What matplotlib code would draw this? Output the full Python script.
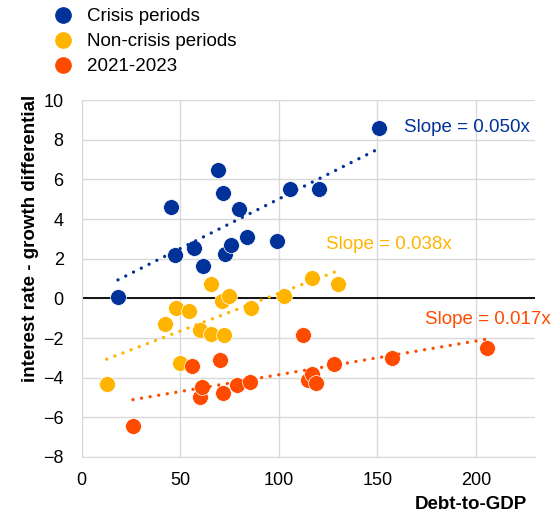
import numpy as np
import matplotlib
matplotlib.use("Agg")
import matplotlib.pyplot as plt
from matplotlib.lines import Line2D

plt.rcParams['font.family'] = ['Liberation Sans', 'DejaVu Sans']

# data: debt-to-GDP (x) vs r-g differential (y)
crisis_x = [18.4, 45.3, 47.1, 57.0, 61.5, 68.9, 71.5, 72.6, 76.0, 79.8, 83.9, 98.9, 105.8, 120.3, 151.0]
crisis_y = [0.05, 4.62, 2.18, 2.54, 1.61, 6.45, 5.33, 2.25, 2.69, 4.52, 3.08, 2.91, 5.52, 5.53, 8.61]

noncrisis_x = [12.7, 42.1, 47.8, 49.8, 54.5, 60.0, 65.4, 65.7, 71.3, 72.3, 74.6, 85.7, 102.8, 116.6, 130.0]
noncrisis_y = [-4.30, -1.27, -0.51, -3.25, -0.62, -1.61, 0.73, -1.78, -0.12, -1.83, 0.14, -0.51, 0.14, 1.03, 0.70]

recent_x = [26.0, 56.2, 60.0, 61.2, 70.0, 71.6, 78.7, 85.4, 112.4, 114.9, 116.6, 119.1, 127.8, 157.3, 205.5]
recent_y = [-6.46, -3.42, -4.97, -4.48, -3.11, -4.79, -4.35, -4.21, -1.84, -4.14, -3.84, -4.26, -3.30, -3.03, -2.49]

labels = ["Crisis periods", "Non-crisis periods", "2021-2023"]
colors = ["#003299", "#FFB400", "#FF4B00"]

# linear trend lines as shown in the chart
slopes = [0.050, 0.038, 0.017]
intercepts = [0.01, -3.55, -5.55]
slope_texts = ["Slope = 0.050x", "Slope = 0.038x", "Slope = 0.017x"]
slope_pos = [(163.5, 8.6), (124.1, 2.72), (174.4, -1.08)]

series = [(crisis_x, crisis_y), (noncrisis_x, noncrisis_y), (recent_x, recent_y)]

fig = plt.figure(figsize=(5.57, 5.14), dpi=100)
ax = fig.add_axes([0.1467, 0.1109, 0.8138, 0.6945])

for (xs, ys), c, s, b in zip(series, colors, slopes, intercepts):
    ax.scatter(xs, ys, s=130, color=c, edgecolors='white', linewidths=0.5, zorder=3)
    tx = np.array([min(xs), max(xs)])
    ax.plot(tx, s * tx + b, color=c, lw=2.4, dashes=(0.01, 2.6),
            dash_capstyle='round', zorder=4)

for t, (px, py), c in zip(slope_texts, slope_pos, colors):
    ax.text(px, py, t, color=c, fontsize=13.5, va='center', ha='left')

ax.axhline(0, color='black', lw=1.3, zorder=2)

ax.set_xlim(0, 230)
ax.set_ylim(-8, 10)
ax.set_xticks([0, 50, 100, 150, 200])
ax.set_yticks(range(-8, 11, 2))
ax.tick_params(length=0, labelsize=13)
ax.tick_params(axis='y', pad=13)
ax.tick_params(axis='x', pad=11)
ax.grid(True, color='#d9d9d9', lw=1)
ax.set_axisbelow(True)
for side in ['top', 'right']:
    ax.spines[side].set_visible(False)
for side in ['left', 'bottom']:
    ax.spines[side].set_color('#d9d9d9')

ax.set_ylabel("interest rate - growth differential", fontsize=13.5, fontweight='bold')
ax.yaxis.set_label_coords(-0.095, 0.613)
ax.set_xlabel("Debt-to-GDP", fontsize=13.5, fontweight='bold', ha='right')
ax.xaxis.set_label_coords(0.983, -0.109)

handles = [Line2D([], [], marker='o', ls='none', color=c, markersize=11) for c in colors]
fig.legend(handles, labels, loc='upper left', bbox_to_anchor=(0.097, 0.984),
           frameon=False, fontsize=13.5, handlelength=1.0, handletextpad=0.78,
           labelspacing=0.42, borderpad=0, borderaxespad=0)

fig.savefig("out.png", dpi=100)
